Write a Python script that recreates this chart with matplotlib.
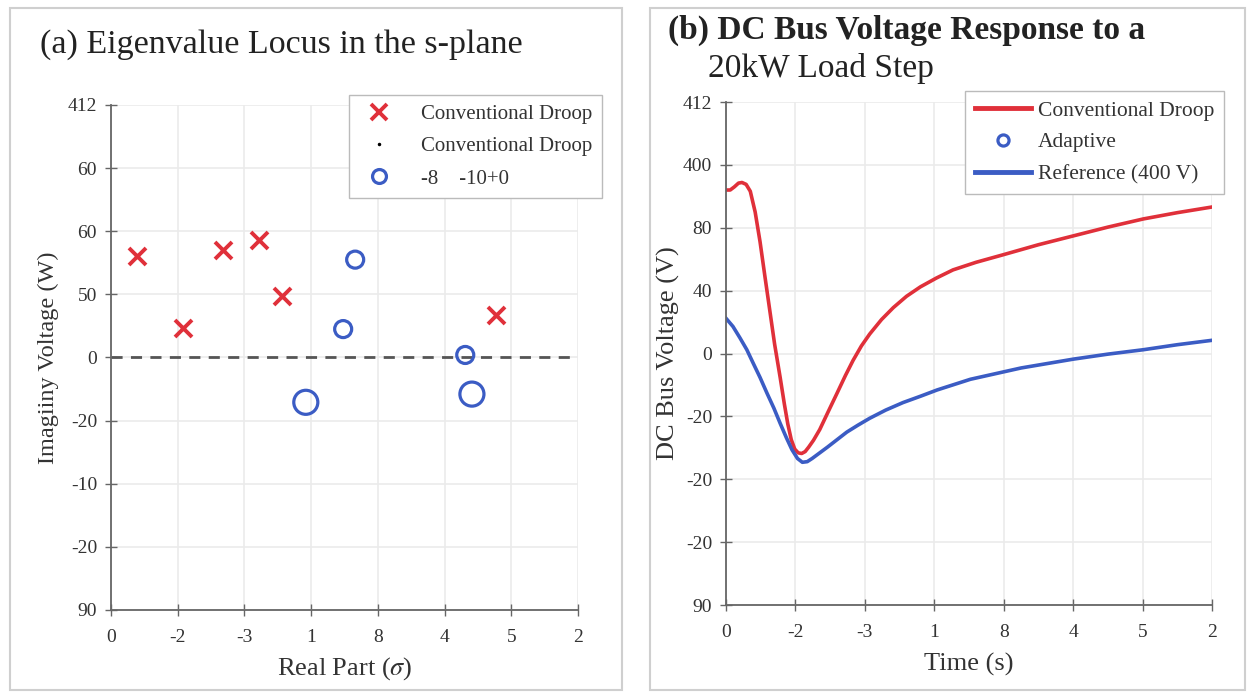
import matplotlib
matplotlib.use("Agg")
import matplotlib.pyplot as plt
from matplotlib.lines import Line2D
from matplotlib.patches import Rectangle

plt.rcParams["font.family"] = ["Liberation Serif", "DejaVu Serif"]
plt.rcParams["mathtext.fontset"] = "stix"

# ---- panel (a): eigenvalue locus (positions in tick-index units)
a_xticklabels = ["0", "-2", "-3", "1", "8", "4", "5", "2"]
a_yticklabels = ["90", "-20", "-10", "-20", "0", "50", "60", "60", "412"]

conv_re = [0.39, 1.08, 1.68, 2.22, 2.56, 5.77]
conv_im = [5.61, 4.47, 5.71, 5.86, 4.97, 4.67]

adapt_small_re = [3.48, 3.66, 5.31]
adapt_small_im = [4.45, 5.55, 4.04]
adapt_big_re = [2.92, 5.41]
adapt_big_im = [3.29, 3.42]

# ---- panel (b): DC bus voltage response (positions in tick-index units)
b_xticklabels = ["0", "-2", "-3", "1", "8", "4", "5", "2"]
b_yticklabels = ["90", "-20", "-20", "-20", "0", "40", "80", "400", "412"]

droop_t = [0.00, 0.06, 0.12, 0.18, 0.23, 0.29, 0.35, 0.42, 0.49, 0.56, 0.63,
           0.70, 0.78, 0.84, 0.89, 0.94, 0.99, 1.04, 1.09, 1.14, 1.19, 1.26,
           1.35, 1.47, 1.60, 1.72, 1.83, 1.95, 2.07, 2.24, 2.41, 2.60, 2.80,
           3.03, 3.27, 3.60, 3.99, 4.50, 5.00, 5.50, 6.01, 6.50, 7.00]
droop_v = [6.60, 6.60, 6.65, 6.71, 6.72, 6.69, 6.58, 6.25, 5.78, 5.23, 4.69,
           4.15, 3.62, 3.20, 2.88, 2.63, 2.48, 2.42, 2.41, 2.44, 2.51, 2.62,
           2.79, 3.07, 3.37, 3.65, 3.89, 4.12, 4.31, 4.54, 4.73, 4.91, 5.06,
           5.20, 5.33, 5.45, 5.57, 5.73, 5.87, 6.01, 6.14, 6.24, 6.33]

ref_t = [0.00, 0.10, 0.20, 0.30, 0.39, 0.49, 0.59, 0.69, 0.78, 0.87, 0.95,
         1.03, 1.10, 1.17, 1.24, 1.35, 1.46, 1.60, 1.74, 1.90, 2.07, 2.30,
         2.55, 2.80, 3.04, 3.52, 4.25, 5.00, 5.50, 6.01, 6.50, 7.00]
ref_v = [4.56, 4.43, 4.25, 4.06, 3.85, 3.62, 3.37, 3.13, 2.89, 2.66, 2.47,
         2.33, 2.27, 2.28, 2.33, 2.42, 2.51, 2.63, 2.75, 2.86, 2.97, 3.10,
         3.22, 3.32, 3.42, 3.59, 3.77, 3.91, 3.99, 4.06, 4.14, 4.21]

RED = "#e0303a"
BLUE = "#3b5cc4"
TXT = "#333333"


def style_axes(ax, xlabels, ylabels):
    ax.set_xlim(0, len(xlabels) - 1)
    ax.set_ylim(0, len(ylabels) - 1)
    ax.set_xticks(range(len(xlabels)))
    ax.set_xticklabels(xlabels)
    ax.set_yticks(range(len(ylabels)))
    ax.set_yticklabels(ylabels)
    ax.grid(True, color="#ebebeb", linewidth=1.2)
    ax.set_axisbelow(True)
    for s in ("top", "right"):
        ax.spines[s].set_visible(False)
    for s in ("left", "bottom"):
        ax.spines[s].set_color("#666666")
        ax.spines[s].set_linewidth(1.3)
    ax.tick_params(direction="inout", length=8, width=1, colors="#666666",
                   labelcolor=TXT, labelsize=14, pad=6)
    ax.tick_params(axis="x", pad=10)


fig = plt.figure(figsize=(12.5, 6.92), dpi=100)

# panel frames
for x0, w in [(10, 612), (650, 595)]:
    fig.patches.append(Rectangle((x0 / 1250, 1 - 690 / 692), w / 1250, 682 / 692,
                                 transform=fig.transFigure, fill=False,
                                 edgecolor="#cfcfcf", linewidth=1.5))

# ---- (a)
ax1 = fig.add_axes([0.0888, 0.1185, 0.3736, 0.7298])
style_axes(ax1, a_xticklabels, a_yticklabels)
ax1.axhline(4, color="#555555", linestyle=(0, (4, 3)), linewidth=2)
ax1.scatter(conv_re, conv_im, marker="x", s=150, color=RED, linewidths=2.8, zorder=3)
ax1.scatter(adapt_small_re, adapt_small_im, marker="o", s=150, facecolors="none",
            edgecolors=BLUE, linewidths=2.3, zorder=3)
ax1.scatter(adapt_big_re, adapt_big_im, marker="o", s=300, facecolors="none",
            edgecolors=BLUE, linewidths=2.3, zorder=3)
ax1.set_xlabel(r"Real Part ($\sigma$)", fontsize=19, color=TXT, labelpad=6)
ax1.set_ylabel("Imagiiny Voltage (W)", fontsize=17.5, color=TXT, labelpad=6)

h1 = [Line2D([], [], linestyle="none", marker="x", markersize=11, color=RED, markeredgewidth=2.8),
      Line2D([], [], linestyle="none", marker=".", markersize=3, color="black"),
      Line2D([], [], linestyle="none", marker="o", markersize=10, markerfacecolor="none",
             markeredgecolor=BLUE, markeredgewidth=2.3)]
leg1 = ax1.legend(h1, ["Conventional Droop", "Conventional Droop", "-8    -10+0"],
                  loc="upper right", bbox_to_anchor=(0.4896, 0.8772),
                  bbox_transform=fig.transFigure, fontsize=15, fancybox=False,
                  edgecolor="#bbbbbb", framealpha=1, borderpad=0.45,
                  labelspacing=0.6, handlelength=2.0, handletextpad=1.0)
for t in leg1.get_texts():
    t.set_color(TXT)

# ---- (b)
ax2 = fig.add_axes([0.5808, 0.1257, 0.3888, 0.7269])
style_axes(ax2, b_xticklabels, b_yticklabels)
ax2.plot(droop_t, droop_v, color=RED, linewidth=2.6, solid_joinstyle="round")
ax2.plot(ref_t, ref_v, color=BLUE, linewidth=2.6, solid_joinstyle="round")
ax2.set_xlabel("Time (s)", fontsize=19, color=TXT, labelpad=8)
ax2.set_ylabel("DC Bus Voltage (V)", fontsize=19, color=TXT, labelpad=2)

h2 = [Line2D([], [], color=RED, linewidth=3.5),
      Line2D([], [], linestyle="none", marker="o", markersize=8, markerfacecolor="none",
             markeredgecolor=BLUE, markeredgewidth=2.3),
      Line2D([], [], color=BLUE, linewidth=3.5)]
leg2 = ax2.legend(h2, ["Conventional Droop", "Adaptive", "Reference (400 V)"],
                  loc="upper right", bbox_to_anchor=(0.988, 0.8844),
                  bbox_transform=fig.transFigure, fontsize=15.5, fancybox=False,
                  edgecolor="#bbbbbb", framealpha=1, borderpad=0.45,
                  labelspacing=0.55, handlelength=2.6, handletextpad=0.35)
for t in leg2.get_texts():
    t.set_color(TXT)

# titles
fig.text(40 / 1250, 1 - 45 / 692, "(a) Eigenvalue Locus in the s-plane",
         fontsize=24.5, color="#222222", va="center", ha="left")
fig.text(668 / 1250, 1 - 30 / 692, "(b) DC Bus Voltage Response to a",
         fontsize=24, color="#222222", va="center", ha="left", fontweight="bold")
fig.text(708 / 1250, 1 - 68 / 692, "20kW Load Step",
         fontsize=24, color="#222222", va="center", ha="left")

fig.savefig("out.png", dpi=100)
